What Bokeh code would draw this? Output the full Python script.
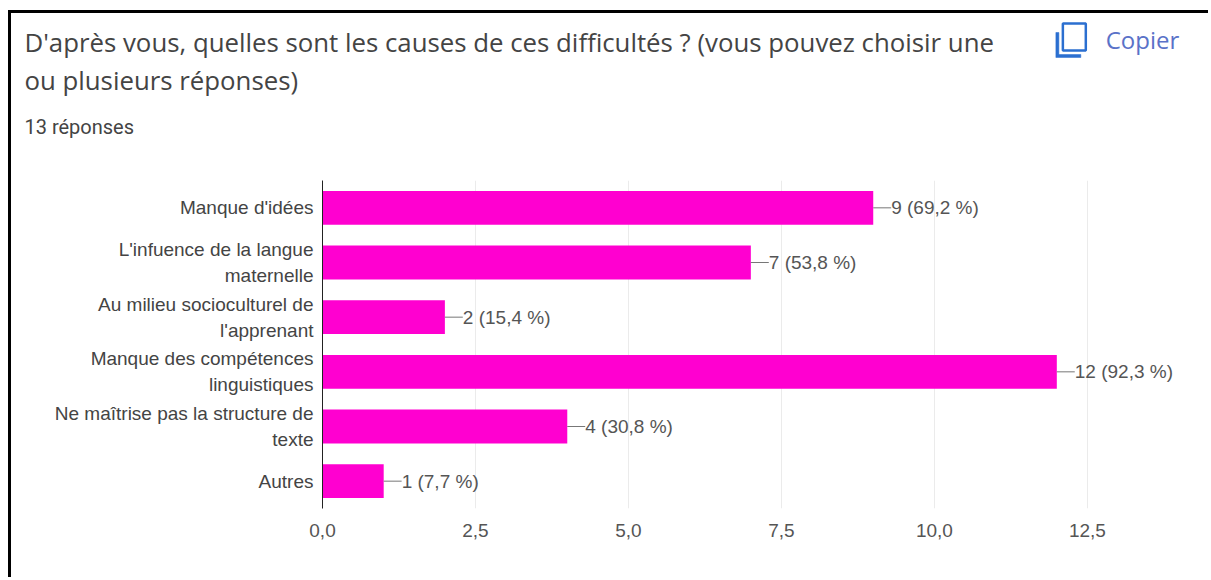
from bokeh.plotting import figure
from bokeh.layouts import column
from bokeh.embed import file_html
from bokeh.resources import INLINE
from bokeh.models import ColumnDataSource, FixedTicker, Label, PolyAnnotation, Range1d, FactorRange
from bokeh.core.properties import value

categories = ["Manque d'idées", "L'infuence de la langue\nmaternelle",
              "Au milieu socioculturel de\nl'apprenant", "Manque des compétences\nlinguistiques",
              "Ne maîtrise pas la structure de\ntexte", "Autres"]
counts = [9, 7, 2, 12, 4, 1]
labels = ["9 (69,2 %)", "7 (53,8 %)", "2 (15,4 %)", "12 (92,3 %)", "4 (30,8 %)", "1 (7,7 %)"]
x_ticks = [0, 2.5, 5, 7.5, 10, 12.5]
x_tick_labels = ["0,0", "2,5", "5,0", "7,5", "10,0", "12,5"]
title_lines = ["D'après vous, quelles sont les causes de ces difficultés ? (vous pouvez choisir une",
               "ou plusieurs réponses)"]
subtitle = "13 réponses"
copy_text = "Copier"

W, H = 1211, 580
OX, OY = 11, 13            # where the inner area starts once the black border is drawn
HEAD = 160
PX = 61.4
CW, CH = W - OX, H - OY - HEAD

p = figure(width=CW, height=CH, output_backend="svg", toolbar_location=None,
           x_range=Range1d(0, (W - 322) / PX), y_range=FactorRange(factors=categories[::-1]),
           min_border_left=322 - OX, min_border_right=0,
           min_border_top=180 - OY - HEAD, min_border_bottom=H - 508,
           outline_line_color=None, background_fill_color="white", border_fill_color="white",
           frame_align=False)
p.ygrid.visible = False
p.xgrid.grid_line_color = "#ebebeb"
p.xgrid.grid_line_width = 1

xa = p.xaxis[0]
xa.ticker = FixedTicker(ticks=x_ticks)
xa.major_label_overrides = dict(zip(x_ticks, x_tick_labels))
xa.axis_line_color = None
xa.major_tick_line_color = None
xa.minor_tick_line_color = None
xa.major_label_text_font = "Liberation Sans"
xa.major_label_text_font_size = "19px"
xa.major_label_text_color = "#555555"
xa.major_label_standoff = 9

ya = p.yaxis[0]
ya.axis_line_color = "#222222"
ya.axis_line_width = 1
ya.major_tick_line_color = None
ya.minor_tick_line_color = None
ya.major_label_text_font = "Liberation Sans"
ya.major_label_text_font_size = "19px"
ya.major_label_text_color = "#444444"
ya.major_label_text_line_height = 1.25
ya.major_label_standoff = 3

src = ColumnDataSource(dict(cat=categories, n=counts, lab=labels,
                            lead=[c + 18 / PX for c in counts]))
p.hbar(y="cat", right="n", left=0, height=0.62, source=src, fill_color="#ff00d0", line_color=None)
p.segment(x0="n", x1="lead", y0="cat", y1="cat", source=src, line_color="#777777", line_width=1)
p.text(x="lead", y="cat", text="lab", source=src, text_baseline="middle",
       text_font=value("Liberation Sans"), text_font_size="19px", text_color="#555555")

# header: its plot area fills it, so nothing in it is clipped
h = figure(width=CW, height=HEAD, output_backend="svg", toolbar_location=None,
           x_range=Range1d(0, CW), y_range=Range1d(HEAD, 0),
           min_border=0, outline_line_color=None, x_axis_location=None, y_axis_location=None,
           background_fill_color="white", border_fill_color="white", frame_align=False)
h.grid.visible = False


def label(txt, x, y, font, size, color):
    h.add_layout(Label(x=x - OX, y=y - OY, x_units="data", y_units="data", text=txt,
                       text_font=font, text_font_size=size, text_color=color,
                       text_baseline="middle", text_align="left"))


label(title_lines[0], 24, 41, "Open Sans", "25.8px", "#444444")
label(title_lines[1], 24, 79, "Open Sans", "25.8px", "#444444")
label(subtitle, 24, 126, "Roboto", "20px", "#444444")
label(copy_text, 1108, 39, "Open Sans", "24px", "#5a72c8")


def poly(xs, ys, color, width, fill=None):
    h.add_layout(PolyAnnotation(xs=[v - OX for v in xs], ys=[v - OY for v in ys],
                                line_color=color, line_width=width, line_alpha=1.0,
                                fill_color=fill, fill_alpha=1.0 if fill else 0.0))


poly([1065, 1088, 1088, 1065], [23, 23, 50, 50], "#2b6fd0", 2.5)
poly([1058, 1058, 1083, 1083, 1061, 1061], [32, 57, 57, 54, 54, 32], "#2b6fd0", 0.5, "#2b6fd0")

page = column(h, p, spacing=0, margin=(10, 0, 0, 8), width=CW, height=CH + HEAD,
              styles={"border-left": "3px solid black", "border-top": "3px solid black"})

open("out.html", "w").write(file_html(page, INLINE))
